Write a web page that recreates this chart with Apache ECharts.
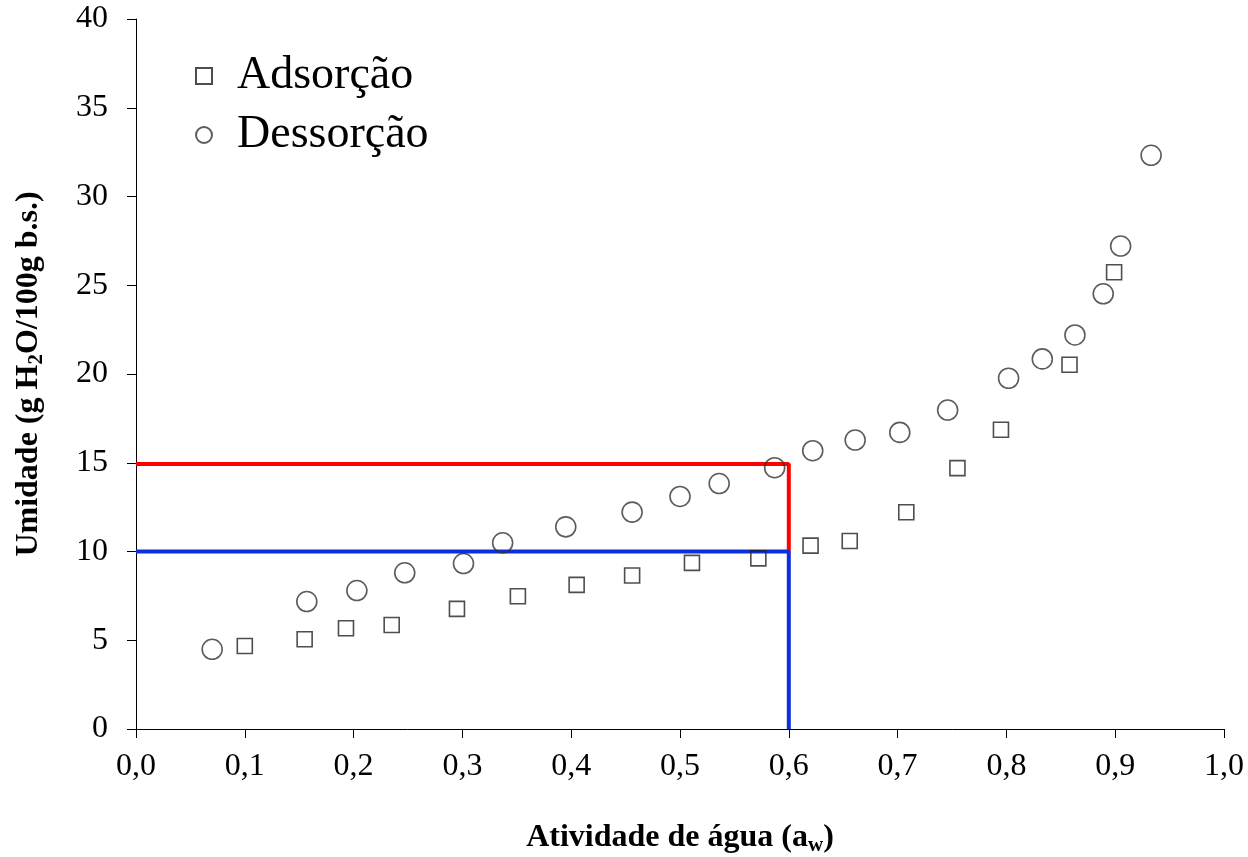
<!DOCTYPE html>
<html>
<head>
<meta charset="UTF-8">
<title>isotermas</title>
<script src="https://cdn.jsdelivr.net/npm/echarts@6/dist/echarts.min.js"></script>
<style>
  html, body { margin: 0; padding: 0; background: #fff; }
  #main { width: 1248px; height: 857px; }
</style>
</head>
<body>
<div id="main"></div>
<script type="text/javascript">
// adsorcao (quadrados)
var adsAw = [0.100, 0.155, 0.193, 0.235, 0.295, 0.351, 0.405, 0.456, 0.511, 0.572, 0.620, 0.656, 0.708, 0.755, 0.795, 0.858, 0.899];
var adsU  = [4.68, 5.06, 5.68, 5.86, 6.77, 7.48, 8.12, 8.65, 9.36, 9.61, 10.33, 10.59, 12.21, 14.70, 16.86, 20.52, 25.73];

// dessorcao (circulos)
var desAw = [0.070, 0.157, 0.203, 0.247, 0.301, 0.337, 0.395, 0.456, 0.500, 0.536, 0.587, 0.622, 0.661, 0.702, 0.746, 0.802, 0.833, 0.863, 0.889, 0.905, 0.933];
var desU  = [4.49, 7.18, 7.80, 8.80, 9.32, 10.49, 11.39, 12.22, 13.10, 13.83, 14.72, 15.68, 16.28, 16.71, 17.97, 19.76, 20.85, 22.20, 24.52, 27.21, 32.32];

// linhas de referencia em aw = 0,6
var redLine  = [[0, 14.93], [0.6, 14.93], [0.6, 10]];
var blueLine = [[0, 10], [0.6, 10], [0.6, 0]];

function pairs(xs, ys) {
  var out = [];
  for (var i = 0; i < xs.length; i++) out.push([xs[i], ys[i]]);
  return out;
}

var serif = '"Liberation Serif", "DejaVu Serif", serif';
var myChart = echarts.init(document.getElementById('main'));

var option = {
  animation: false,
  backgroundColor: '#fff',
  grid: { left: 136, right: 24, top: 19, bottom: 128, outerBoundsMode: 'none', containLabel: false },
  legend: {
    orient: 'vertical',
    left: 190,
    top: 48,
    itemGap: 13,
    itemWidth: 16,
    itemHeight: 16,
    data: ['Adsorção', 'Dessorção'],
    textStyle: { fontFamily: serif, fontSize: 46, color: '#000', padding: [0, 0, 0, 20] }
  },
  xAxis: {
    type: 'value',
    min: 0,
    max: 1,
    interval: 0.1,
    splitLine: { show: false },
    axisLine: { lineStyle: { color: '#000', width: 1 } },
    axisTick: { inside: false, length: 9, lineStyle: { color: '#000' } },
    axisLabel: {
      fontFamily: serif, fontSize: 32, color: '#000', margin: 22,
      formatter: function (v) { return v.toFixed(1).replace('.', ','); }
    },
    name: '{a|Atividade de água (a}{s|w}{a|)}',
    nameLocation: 'middle',
    nameGap: 90,
    nameTextStyle: {
      rich: {
        a: { fontFamily: serif, fontSize: 32, fontWeight: 'bold', color: '#000' },
        s: { fontFamily: serif, fontSize: 21, fontWeight: 'bold', color: '#000', padding: [16, 0, 0, 0] }
      }
    }
  },
  yAxis: {
    type: 'value',
    min: 0,
    max: 40,
    interval: 5,
    splitLine: { show: false },
    axisLine: { show: true, lineStyle: { color: '#000', width: 1 } },
    axisTick: { show: true, inside: false, length: 9, lineStyle: { color: '#000' } },
    axisLabel: { fontFamily: serif, fontSize: 32, color: '#000', margin: 28 },
    name: '{a|Umidade (g H}{s|2}{a|O/100g b.s.)}',
    nameLocation: 'middle',
    nameGap: 89,
    nameRotate: 90,
    nameTextStyle: {
      rich: {
        a: { fontFamily: serif, fontSize: 32, fontWeight: 'bold', color: '#000' },
        s: { fontFamily: serif, fontSize: 21, fontWeight: 'bold', color: '#000', padding: [16, 0, 0, 0] }
      }
    }
  },
  series: [
    {
      name: 'linha15',
      type: 'line',
      data: redLine,
      symbol: 'none',
      lineStyle: { color: '#ff0000', width: 4 },
      z: 1
    },
    {
      name: 'linha10',
      type: 'line',
      data: blueLine,
      symbol: 'none',
      lineStyle: { color: '#0b2fdc', width: 4 },
      z: 2
    },
    {
      name: 'Adsorção',
      type: 'scatter',
      symbol: 'rect',
      symbolSize: 15,
      data: pairs(adsAw, adsU),
      itemStyle: { color: 'rgba(255,255,255,0)', borderColor: '#222', borderWidth: 1.6 },
      z: 3
    },
    {
      name: 'Dessorção',
      type: 'scatter',
      symbol: 'circle',
      symbolSize: 20,
      data: pairs(desAw, desU),
      itemStyle: { color: 'rgba(255,255,255,0)', borderColor: '#333', borderWidth: 1.6 },
      z: 3
    }
  ]
};
myChart.setOption(option);
</script>
</body>
</html>
